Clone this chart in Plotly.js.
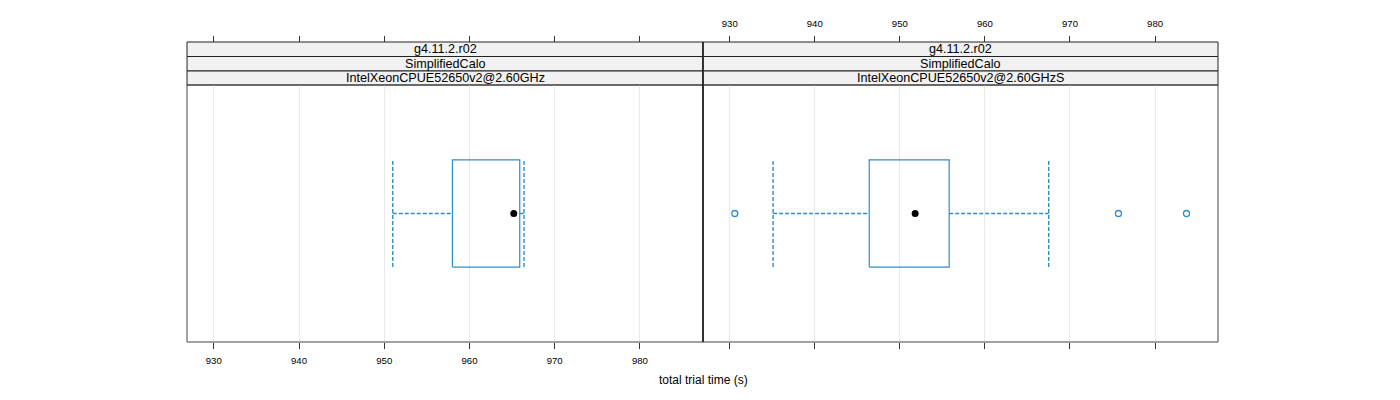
<!DOCTYPE html>
<html>
<head>
<meta charset="utf-8">
<script src="https://cdn.plot.ly/plotly-3.0.1.min.js"></script>
<style>html,body{margin:0;padding:0;background:#fff;}#chart{width:1400px;height:400px;}</style>
</head>
<body>
<div id="chart"></div>
<script>
// ---- data ----
const panelStrips = [
  ["g4.11.2.r02", "SimplifiedCalo", "IntelXeonCPUE52650v2@2.60GHz"],
  ["g4.11.2.r02", "SimplifiedCalo", "IntelXeonCPUE52650v2@2.60GHzS"]
];
const lowerWhisker = [951.0, 935.1];
const q1 = [958.0, 946.4];
const medians = [965.2, 951.8];
const q3 = [965.9, 955.8];
const upperWhisker = [966.4, 967.5];
const outliers = [[], [930.6, 975.7, 983.7]];
const tickVals = [930, 940, 950, 960, 970, 980];
const xTitle = "total trial time (s)";

// ---- style ----
const BLUE = "#2f8dc8";
const XR = [926.86, 987.4];
const W = 1400, H = 400;
const px = v => v / W, py = v => 1 - v / H;
const panelX = [[187, 703], [703, 1218]];
const panelTop = 85, panelBot = 342;
const stripRows = [[42, 56.5], [56.5, 71], [71, 85]];
const hh = 0.25; // half box height in y units

const traces = [];
const xs = ["x", "x2"];
for (let i = 0; i < 2; i++) {
  const xa = xs[i];
  // box
  traces.push({type: "scatter", mode: "lines", xaxis: xa, yaxis: "y",
    x: [q1[i], q3[i], q3[i], q1[i], q1[i]], y: [1 - hh, 1 - hh, 1 + hh, 1 + hh, 1 - hh],
    line: {color: BLUE, width: 1.2}, hoverinfo: "skip", showlegend: false});
  // whiskers
  traces.push({type: "scatter", mode: "lines", xaxis: xa, yaxis: "y",
    x: [lowerWhisker[i], q1[i], null, q3[i], upperWhisker[i]], y: [1, 1, null, 1, 1],
    line: {color: BLUE, width: 1.4, dash: "4px,2px"}, hoverinfo: "skip", showlegend: false});
  // caps
  traces.push({type: "scatter", mode: "lines", xaxis: xa, yaxis: "y",
    x: [lowerWhisker[i], lowerWhisker[i], null, upperWhisker[i], upperWhisker[i]],
    y: [1 - hh, 1 + hh, null, 1 - hh, 1 + hh],
    line: {color: BLUE, width: 1.4, dash: "4px,2px"}, hoverinfo: "skip", showlegend: false});
  // median
  traces.push({type: "scatter", mode: "markers", xaxis: xa, yaxis: "y",
    x: [medians[i]], y: [1], marker: {color: "#000", size: 7, symbol: "circle"},
    hoverinfo: "skip", showlegend: false});
  // outliers
  if (outliers[i].length) {
    traces.push({type: "scatter", mode: "markers", xaxis: xa, yaxis: "y",
      x: outliers[i], y: outliers[i].map(() => 1),
      marker: {color: BLUE, size: 6, symbol: "circle-open", line: {color: BLUE, width: 1.3}},
      hoverinfo: "skip", showlegend: false});
  }
}

const tickFont = {family: "Liberation Sans, Arial, sans-serif", size: 9.6, color: "#000"};
const baseAxis = {range: XR, tickvals: tickVals, ticktext: tickVals.map(String), ticks: "outside",
  ticklen: 6, tickcolor: "#333", tickwidth: 1, showline: false, zeroline: false, tickfont: tickFont, fixedrange: true};

const yDom = [py(panelBot), py(panelTop)];
const topPos = py(stripRows[0][0]);

const layout = {
  width: W, height: H, margin: {l: 0, r: 0, t: 0, b: 0},
  paper_bgcolor: "#fff", plot_bgcolor: "#fff", showlegend: false,
  xaxis: Object.assign({}, baseAxis, {domain: [px(panelX[0][0]), px(panelX[0][1])], anchor: "y", side: "bottom",
    showgrid: true, gridcolor: "#e9e9e9", gridwidth: 1, showticklabels: true, ticklabelstandoff: 3}),
  xaxis2: Object.assign({}, baseAxis, {domain: [px(panelX[1][0]), px(panelX[1][1])], anchor: "y", side: "bottom",
    showgrid: true, gridcolor: "#e9e9e9", gridwidth: 1, showticklabels: false}),
  xaxis3: Object.assign({}, baseAxis, {overlaying: "x", matches: "x", anchor: "free", position: topPos, side: "top",
    showgrid: false, showticklabels: false}),
  xaxis4: Object.assign({}, baseAxis, {overlaying: "x2", matches: "x2", anchor: "free", position: topPos, side: "top",
    showgrid: false, showticklabels: true, ticklabelstandoff: 5}),
  yaxis: {domain: yDom, range: [0.4, 1.6], showticklabels: false, ticks: "", showgrid: false, zeroline: false, showline: false, fixedrange: true},
  shapes: [], annotations: []
};

// dummy traces to show the top axes
traces.push({type: "scatter", mode: "markers", xaxis: "x3", yaxis: "y", x: [], y: [], showlegend: false, hoverinfo: "skip"});
traces.push({type: "scatter", mode: "markers", xaxis: "x4", yaxis: "y", x: [], y: [], showlegend: false, hoverinfo: "skip"});

const stripFont = {family: "Liberation Sans, Arial, sans-serif", size: 12.6, color: "#000"};
for (let i = 0; i < 2; i++) {
  const [x0, x1] = panelX[i];
  // panel border
  layout.shapes.push({type: "rect", xref: "paper", yref: "paper", x0: px(x0), x1: px(x1), y0: py(panelBot), y1: py(panelTop),
    line: {color: "#444", width: 1}, fillcolor: "rgba(0,0,0,0)", layer: "above"});
  for (let r = 0; r < 3; r++) {
    const [s0, s1] = stripRows[r];
    layout.shapes.push({type: "rect", xref: "paper", yref: "paper", x0: px(x0), x1: px(x1), y0: py(s1), y1: py(s0),
      line: {color: "#222", width: 1}, fillcolor: "#f1f1f1", layer: "below"});
    layout.annotations.push({xref: "paper", yref: "paper", x: (px(x0) + px(x1)) / 2, y: py((s0 + s1) / 2),
      text: panelStrips[i][r], showarrow: false, font: stripFont, xanchor: "center", yanchor: "middle"});
  }
}
layout.shapes.push({type: "line", xref: "paper", yref: "paper", x0: px(703), x1: px(703), y0: py(panelBot), y1: py(stripRows[0][0]),
  line: {color: "#222", width: 1.6}, layer: "above"});

layout.annotations.push({xref: "paper", yref: "paper", x: px(703), y: py(380), text: xTitle, showarrow: false,
  font: {family: "Liberation Sans, Arial, sans-serif", size: 12, color: "#000"}, xanchor: "center", yanchor: "middle"});

Plotly.newPlot("chart", traces, layout, {displayModeBar: false, staticPlot: true});
</script>
</body>
</html>
